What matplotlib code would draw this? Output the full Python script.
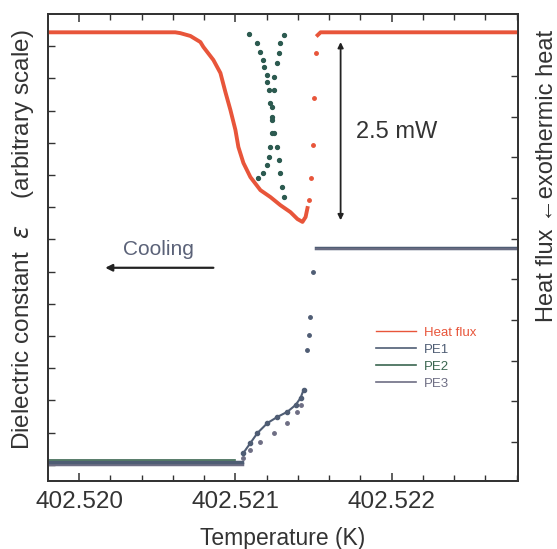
import numpy as np
import matplotlib
matplotlib.use('Agg')
import matplotlib.pyplot as plt
from matplotlib.ticker import FixedLocator, MultipleLocator, FormatStrFormatter, NullFormatter

plt.rcParams['font.family'] = ['Liberation Sans', 'DejaVu Sans']

# ---- heat flux (right axis, arbitrary units) ----
hf_T = [402.519801, 402.520615, 402.520647, 402.520712, 402.520776, 402.520795,
        402.520859, 402.520904, 402.520936, 402.520968, 402.521000, 402.521019,
        402.521051, 402.521096, 402.521160, 402.521224, 402.521288, 402.521352,
        402.521397, 402.521429, 402.521449, 402.521461]
hf_y = [10.07, 10.07, 10.05, 9.98, 9.83, 9.71, 9.39, 9.07, 8.60, 8.16, 7.67, 7.25,
        6.86, 6.51, 6.19, 6.02, 5.82, 5.65, 5.48, 5.41, 5.53, 5.75]
hf_jump_T = [402.521468, 402.521481, 402.521494, 402.521500, 402.521513]
hf_jump_y = [5.95, 6.49, 7.30, 8.45, 9.56]
hf_hi_T = [402.521526, 402.521545, 402.522808]
hf_hi_y = [10.00, 10.07, 10.07]

# ---- dielectric constant (left axis, arbitrary units) ----
lo_T = [402.519801, 402.521040]
pe1_lo, pe2_lo, pe3_lo = 0.09, 0.16, 0.03
hi_T = [402.521513, 402.522808]
eps_hi = 6.74

pe1_rise_T = [402.521051, 402.521096, 402.521141, 402.521205, 402.521269,
              402.521333, 402.521385, 402.521417, 402.521436]
pe1_rise_y = [0.37, 0.68, 0.99, 1.30, 1.49, 1.65, 1.86, 2.08, 2.33]
pe3_rise_T = [402.521051, 402.521096, 402.521160, 402.521244, 402.521333,
              402.521397, 402.521417]
pe3_rise_y = [0.22, 0.47, 0.71, 0.99, 1.30, 1.65, 1.86]
jump_T = [402.521461, 402.521468, 402.521474, 402.521494]
jump_y = [3.57, 4.04, 4.60, 5.99]

# green V-shaped dots
v1_T = [402.521090, 402.521141, 402.521160, 402.521179, 402.521186, 402.521199,
        402.521205, 402.521212, 402.521224, 402.521231, 402.521231, 402.521224,
        402.521212, 402.521199, 402.521179, 402.521147]
v1_y = [13.39, 13.11, 12.83, 12.58, 12.36, 12.11, 11.89, 11.65, 11.24, 10.81,
        10.31, 9.88, 9.57, 9.32, 9.07, 8.91]
v2_T = [402.521308, 402.521288, 402.521276, 402.521263, 402.521250, 402.521244,
        402.521237, 402.521237, 402.521244, 402.521263, 402.521276, 402.521288,
        402.521301, 402.521308]
v2_y = [13.35, 13.11, 12.80, 12.48, 12.05, 11.65, 11.12, 10.71, 10.31, 9.88,
        9.47, 9.07, 8.63, 8.32]

# annotation anchors
cool_T = [402.520859, 402.520167]
cool_y = 6.12
cool_txt = (402.520506, 6.68)
bar_T = 402.521673
bar_y = [9.83, 5.45]
bar_txt = (402.522032, 7.62)

c_red = '#e8553a'
c_pe1 = '#4f5d74'
c_pe2 = '#3b6650'
c_pe3 = '#6e6e84'
c_txt = '#333333'

fig = plt.figure(figsize=(5.57, 5.49), dpi=100)
ax = fig.add_axes([0.0862, 0.1239, 0.8438, 0.8506])
ax2 = ax.twinx()

# dielectric
ax.plot(lo_T, [pe3_lo] * 2, color=c_pe3, lw=2.5)
ax.plot(lo_T, [pe1_lo] * 2, color=c_pe1, lw=2.5)
ax.plot([lo_T[0], 402.521000], [pe2_lo] * 2, color=c_pe2, lw=1.2)
ax.plot(pe3_rise_T, pe3_rise_y, 'o', color=c_pe3, ms=2.5)
ax.plot(pe1_rise_T, pe1_rise_y, 'o-', color=c_pe1, ms=3, lw=1.5)
ax.plot(jump_T, jump_y, 'o', color=c_pe1, ms=2.5)
ax.plot(hi_T, [eps_hi] * 2, color=c_pe1, lw=2.5)
ax.plot(hi_T, [eps_hi - 0.05] * 2, color=c_pe3, lw=1.2)
ax.plot(v1_T, v1_y, 'o', color='#2c5a50', ms=2.8)
ax.plot(v2_T, v2_y, 'o', color='#2c5a50', ms=2.8)

# heat flux
ax2.plot(hf_T, hf_y, color=c_red, lw=2.8)
ax2.plot(hf_jump_T, hf_jump_y, 'o', color=c_red, ms=2.5)
ax2.plot(hf_hi_T, hf_hi_y, color=c_red, lw=2.8)

ax.set_xlim(402.519801, 402.522808)
ax.set_ylim(-0.5, 14.0)
ax2.set_ylim(-0.958, 10.52)

ax.xaxis.set_major_locator(FixedLocator([402.520, 402.521, 402.522]))
ax.xaxis.set_major_formatter(FormatStrFormatter('%.3f'))
ax.xaxis.set_minor_locator(MultipleLocator(0.0002))
ax.yaxis.set_major_locator(FixedLocator(np.arange(0, 14)))
ax.yaxis.set_major_formatter(NullFormatter())
ax2.yaxis.set_major_locator(FixedLocator(np.arange(0, 10)))
ax2.yaxis.set_major_formatter(NullFormatter())

ax.tick_params(axis='x', which='both', direction='in', top=True, pad=7,
               labelsize=17.5, labelcolor=c_txt, color=c_txt)
ax.tick_params(axis='x', which='major', length=6, width=1.1)
ax.tick_params(axis='x', which='minor', length=4, width=1.0)
ax.tick_params(axis='y', direction='in', length=5, width=1.0, color=c_txt)
ax2.tick_params(axis='y', direction='in', length=5, width=1.0, color=c_txt)
for a in (ax, ax2):
    for s in a.spines.values():
        s.set_linewidth(1.3)
        s.set_color(c_txt)

ax.set_xlabel('Temperature (K)', fontsize=16.5, color=c_txt, labelpad=10)
fig.text(23 / 557, 1 - 240 / 549,
         'Dielectric constant  $\\varepsilon$    (arbitrary scale)',
         fontsize=17.5, color=c_txt, rotation=90, ha='center', va='center')
fig.text(547 / 557, 1 - 176 / 549, 'Heat flux \u2190exothermic heat',
         fontsize=17, color=c_txt, rotation=90, ha='center', va='center')

ax.annotate('', xy=(cool_T[1], cool_y), xytext=(cool_T[0], cool_y),
            arrowprops=dict(arrowstyle='-|>', color='#222222', lw=1.6,
                            mutation_scale=10, shrinkA=0, shrinkB=0))
ax.text(cool_txt[0], cool_txt[1], 'Cooling', fontsize=15, color='#5b6278',
        ha='center', va='center')
ax2.annotate('', xy=(bar_T, bar_y[0]), xytext=(bar_T, bar_y[1]),
             arrowprops=dict(arrowstyle='<|-|>', color='#222222', lw=1.3,
                             mutation_scale=8, shrinkA=0, shrinkB=0))
ax2.text(bar_txt[0], bar_txt[1], '2.5 mW', fontsize=17, color=c_txt,
         ha='center', va='center')

handles = [plt.Line2D([], [], color=c_red, lw=1.0),
           plt.Line2D([], [], color=c_pe1, lw=1.2),
           plt.Line2D([], [], color=c_pe2, lw=1.2),
           plt.Line2D([], [], color=c_pe3, lw=1.2)]
ax2.legend(handles, ['Heat flux', 'PE1', 'PE2', 'PE3'], loc='center left',
           bbox_to_anchor=(0.698, 0.263), frameon=False, fontsize=9.5,
           handlelength=3.0, handletextpad=0.6, labelspacing=0.35,
           borderpad=0, borderaxespad=0, labelcolor='linecolor')

fig.savefig('out.png', dpi=100)
